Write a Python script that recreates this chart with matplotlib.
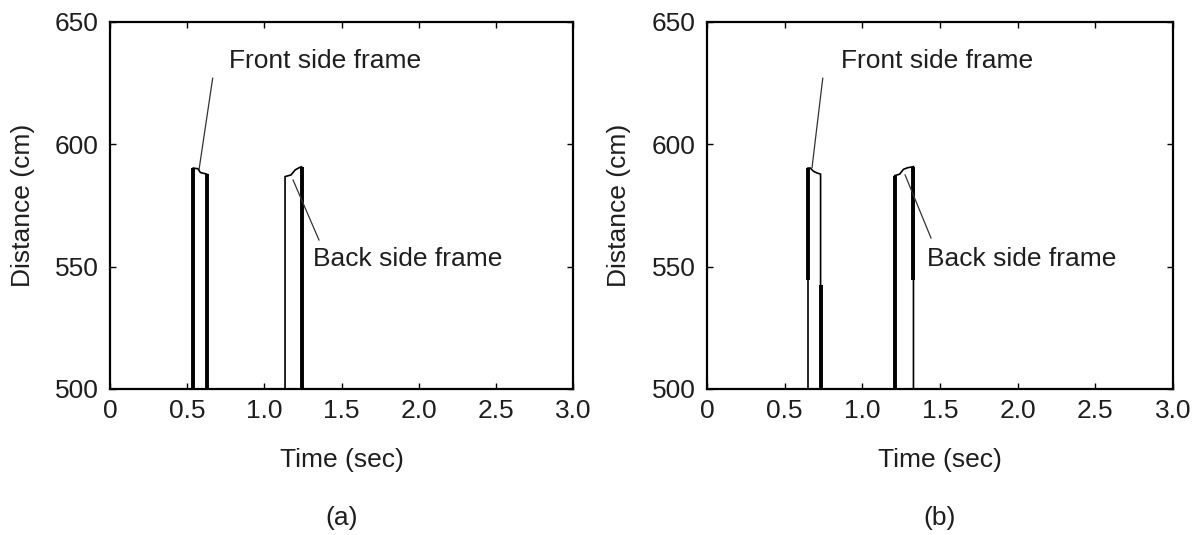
import matplotlib
matplotlib.use("Agg")
import matplotlib.pyplot as plt
import numpy as np

plt.rcParams['font.family'] = ['Liberation Sans', 'DejaVu Sans']

# ---- data -------------------------------------------------------------
x_ticks = [0, 0.5, 1.0, 1.5, 2.0, 2.5, 3.0]
x_tick_labels = ["0", "0.5", "1.0", "1.5", "2.0", "2.5", "3.0"]
y_ticks = [500, 550, 600, 650]

# panel (a): measured distance trace (time in s, distance in cm)
a_time = [0.0, 0.540, 0.540, 0.570, 0.585, 0.615, 0.627, 0.627,
          1.134, 1.134, 1.173, 1.199, 1.218, 1.242, 1.242, 3.0]
a_dist = [500, 500, 590.3, 590.0, 588.5, 588.0, 587.8, 500,
          500, 586.8, 587.5, 589.5, 590.2, 590.9, 500, 500]
# repeated samples at the transitions (rendered heavier)
a_edge_t = [0.540, 0.627, 1.242]
a_edge_lo = [500, 500, 500]
a_edge_hi = [590.3, 587.8, 590.9]

# panel (b)
b_time = [0.0, 0.650, 0.650, 0.665, 0.685, 0.708, 0.731, 0.731,
          1.208, 1.208, 1.240, 1.265, 1.290, 1.329, 1.329, 3.0]
b_dist = [500, 500, 590.3, 590.3, 589.0, 588.3, 587.8, 500,
          500, 587.2, 587.8, 589.8, 590.4, 590.9, 500, 500]
b_edge_t = [0.650, 0.731, 1.208, 1.329]
b_edge_lo = [544.6, 500, 500, 544.5]
b_edge_hi = [590.3, 542.5, 587.2, 590.9]

# annotations: (label, text position, leader start, leader tip)
a_notes = [("Front side frame", (0.771, 634.0), (0.665, 627.0), (0.577, 589.8)),
           ("Back side frame", (1.316, 553.0), (1.354, 560.9), (1.186, 585.4))]
b_notes = [("Front side frame", (0.863, 634.0), (0.745, 627.0), (0.676, 590.5)),
           ("Back side frame", (1.417, 553.0), (1.442, 561.7), (1.275, 587.5))]

panels = [("(a)", a_time, a_dist, a_edge_t, a_edge_lo, a_edge_hi, a_notes),
          ("(b)", b_time, b_dist, b_edge_t, b_edge_lo, b_edge_hi, b_notes)]

# ---- figure -----------------------------------------------------------
fig = plt.figure(figsize=(12, 5.35), dpi=100)
txt = '#1e1e1e'
fs = 19
boxes = [[0.0917, 0.2729, 0.3858, 0.6860],
         [0.5892, 0.2729, 0.3883, 0.6860]]

for box, (tag, t, d, et, elo, ehi, notes) in zip(boxes, panels):
    ax = fig.add_axes(box)
    ax.plot(t, d, color='black', lw=1.2, solid_joinstyle='miter')
    ax.vlines(et, elo, ehi, color='black', lw=2.8)
    ax.set_xlim(0, 3.0)
    ax.set_ylim(500, 650)
    ax.set_xticks(x_ticks)
    ax.set_xticklabels(x_tick_labels)
    ax.set_yticks(y_ticks)
    ax.tick_params(direction='in', top=True, right=True, length=4, width=1,
                   labelsize=fs, labelcolor=txt)
    ax.tick_params(axis='x', pad=7)
    ax.tick_params(axis='y', pad=8)
    for s in ax.spines.values():
        s.set_linewidth(1.6)
    ax.set_xlabel("Time (sec)", fontsize=fs, color=txt)
    ax.set_ylabel("Distance (cm)", fontsize=fs, color=txt)
    ax.xaxis.set_label_coords(0.5, -0.16)
    ax.yaxis.set_label_coords(-0.163, 0.5)
    for label, tpos, lstart, tip in notes:
        ax.text(tpos[0], tpos[1], label, fontsize=fs, color=txt,
                ha='left', va='center')
        ax.plot([lstart[0], tip[0]], [lstart[1], tip[1]], color='#333333', lw=0.9)
    cx = box[0] + box[2] / 2
    fig.text(cx, 0.032, tag, fontsize=fs, color=txt, ha='center', va='center')

fig.savefig("out.png", dpi=100)
